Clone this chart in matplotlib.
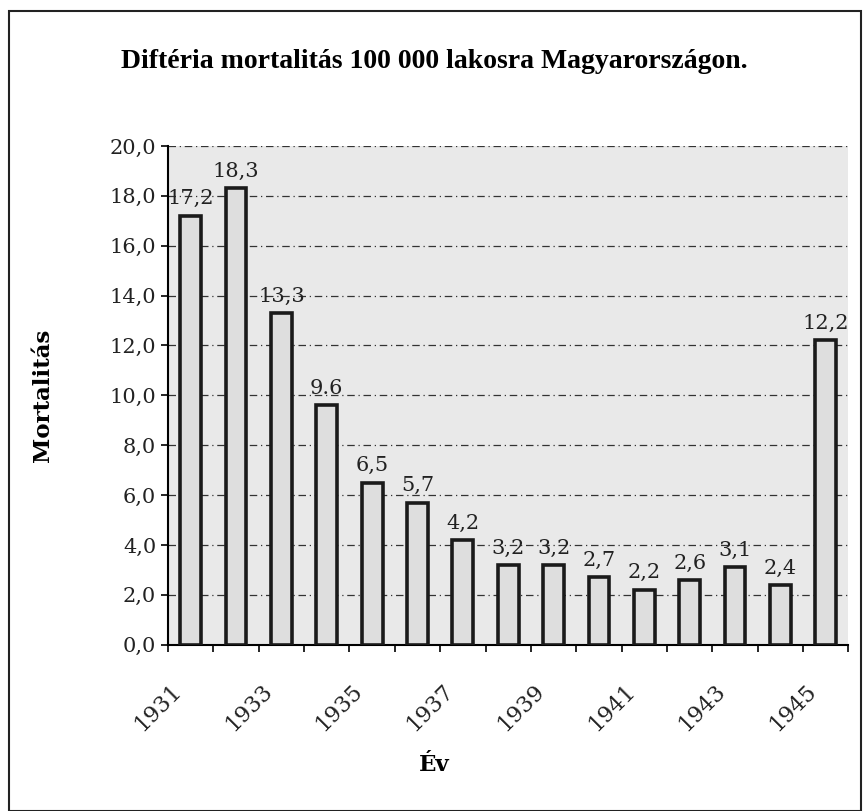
import numpy as np
import matplotlib
matplotlib.use("Agg")
import matplotlib.pyplot as plt
from matplotlib.patches import Rectangle

years = [1931, 1932, 1933, 1934, 1935, 1936, 1937, 1938, 1939, 1940, 1941, 1942, 1943, 1944, 1945]
mortality = [17.2, 18.3, 13.3, 9.6, 6.5, 5.7, 4.2, 3.2, 3.2, 2.7, 2.2, 2.6, 3.1, 2.4, 12.2]
value_labels = ["17,2", "18,3", "13,3", "9.6", "6,5", "5,7", "4,2", "3,2", "3,2", "2,7", "2,2", "2,6", "3,1", "2,4", "12,2"]
yticks = [0, 2, 4, 6, 8, 10, 12, 14, 16, 18, 20]
ytick_labels = ["0,0", "2,0", "4,0", "6,0", "8,0", "10,0", "12,0", "14,0", "16,0", "18,0", "20,0"]

plt.rcParams['font.family'] = ['DejaVu Serif']

fig = plt.figure(figsize=(8.68, 8.11), dpi=100)
ax = fig.add_axes([0.1935, 0.205, 0.784, 0.615])
ax.set_facecolor('#e9e9e9')

x = np.arange(len(years))
ax.bar(x, mortality, width=0.46, color='#dedede', edgecolor='#1a1a1a', linewidth=2.6, zorder=3)

for xi, v, lab in zip(x, mortality, value_labels):
    ax.text(xi, v + 0.3, lab, ha='center', va='bottom', fontsize=15, color='#222222', zorder=4)

ax.set_xlim(-0.5, len(years) - 0.5)
ax.set_ylim(0, 20)
ax.set_yticks(yticks)
ax.set_yticklabels(ytick_labels, fontsize=15, color='#222222')
ax.yaxis.grid(True, linestyle=(0, (6, 3, 1, 3)), color='#333333', linewidth=0.9, zorder=1)

# ticks at category boundaries, labels every other year
ax.set_xticks(np.arange(-0.5, len(years), 1.0))
ax.set_xticklabels([])
ax.tick_params(axis='x', length=5, width=1.2)
ax.tick_params(axis='y', length=5, width=1.2)
for xi, yr in zip(x[::2], years[::2]):
    ax.text(xi - 0.45, -1.4, str(yr), rotation=45, ha='right', va='top',
            rotation_mode='anchor', fontsize=16, color='#222222')

for side in ['top', 'right']:
    ax.spines[side].set_visible(False)
ax.spines['left'].set_linewidth(1.5)
ax.spines['bottom'].set_linewidth(1.5)

ax.set_ylabel('Mortalitás', fontsize=16.5, fontweight='bold')
ax.yaxis.set_label_coords(-0.168, 0.5)
fig.text(0.5, 0.057, 'Év', ha='center', va='center', fontsize=16.5, fontweight='bold')
fig.text(0.5, 0.924, 'Diftéria mortalitás 100 000 lakosra Magyarországon.', ha='center', va='center',
         fontsize=20, fontweight='bold', family=['Liberation Serif'])

fig.patches.append(Rectangle((0.01, 0.0), 0.982, 0.987, transform=fig.transFigure,
                             fill=False, edgecolor='#222222', linewidth=1.5))

fig.savefig('out.png', dpi=100)
